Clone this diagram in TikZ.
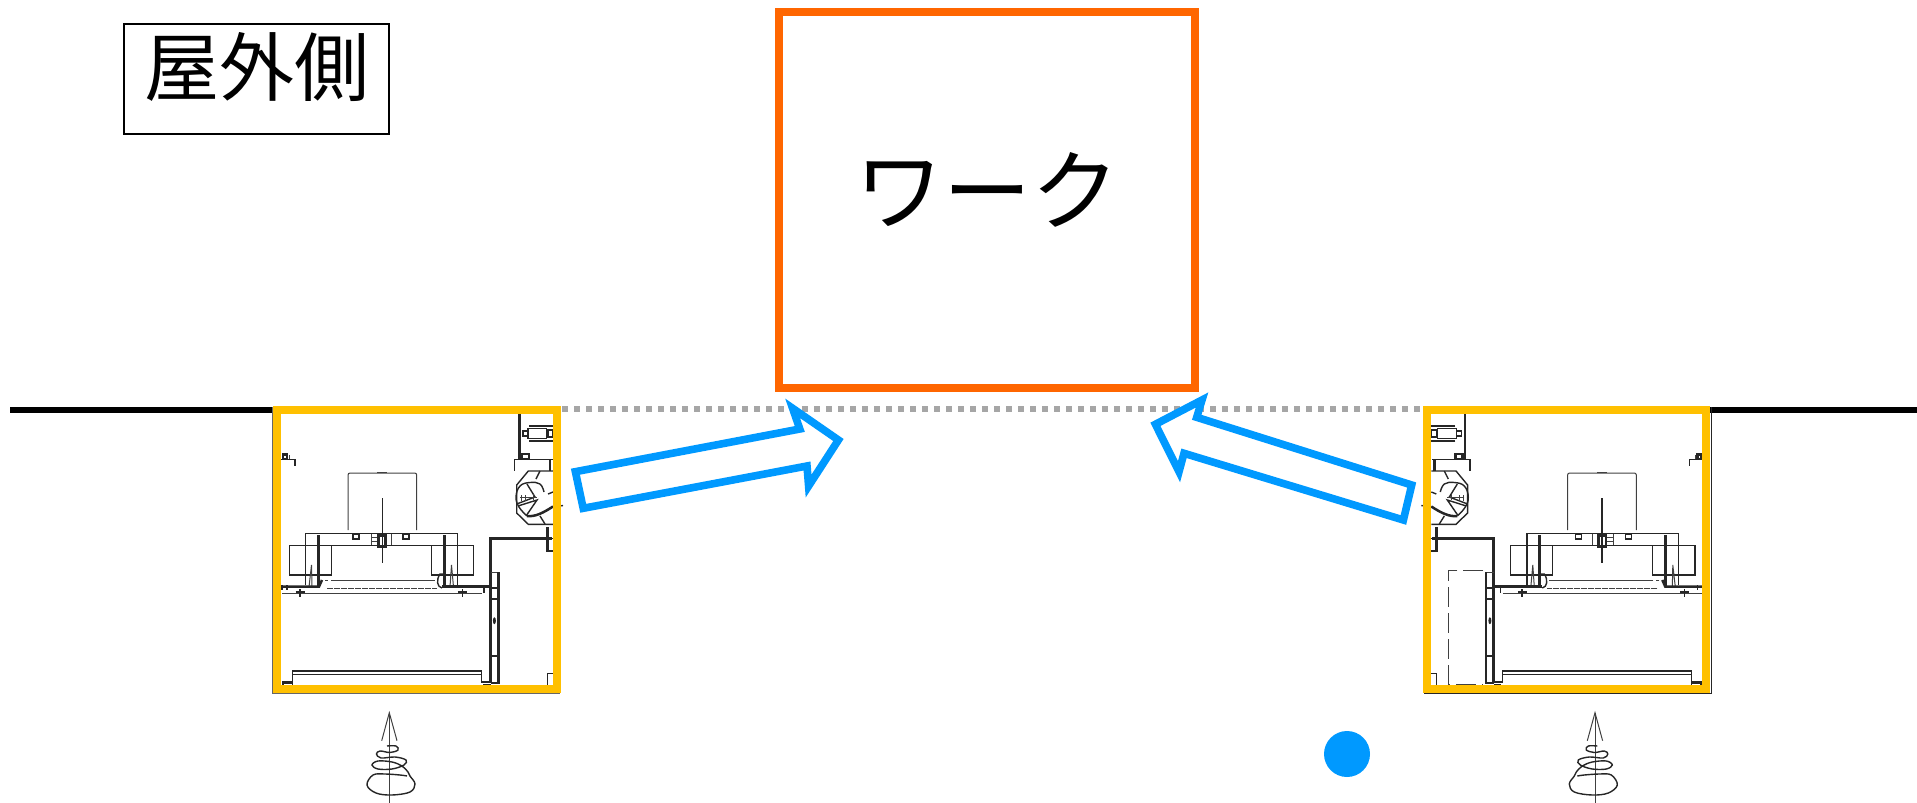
\documentclass[tikz,border=0pt]{standalone}
\usepackage{fontspec}
\newfontfamily\cjk{Noto Sans CJK JP}
\definecolor{framey}{HTML}{FFC000}
\definecolor{workor}{HTML}{FF6600}
\definecolor{flowbl}{HTML}{0099FF}
\definecolor{dotgr}{HTML}{A6A6A6}
\tikzset{
    fine/.style={line width=0.5pt, black!75},
    mid/.style={line width=0.7pt, black!85},
    heavy/.style={line width=1.25pt, black!85},
    yframe/.style={draw=framey, line width=4pt, miter limit=10},
    flowarrow/.style={draw=flowbl, line width=3.8pt, fill=white, miter limit=20},
    workbox/.style={draw=workor, line width=4pt, minimum width=207.7pt, minimum height=187.9pt, inner sep=0pt},
    sidebox/.style={draw, line width=0.6pt, minimum width=132.5pt, minimum height=55pt, inner sep=0pt},
}
\newcommand{\machine}{
    % Motor on its base
    \draw[fine, rounded corners=1] (348,530) -- (348,473) -- (416.7,473) -- (416.7,530);
    \draw[fine] (377,472) -- (387,472);
    \draw[mid] (382.3,498) -- (382.3,563);
    \draw[mid] (305.7,585) -- (305.7,533.3) -- (457.3,533.3) -- (457.3,585);
    \draw[heavy] (318.7,535) -- (318.7,587);
    \draw[heavy] (444.7,535) -- (444.7,587);
    \draw[mid] (289.3,545.3) -- (473.7,545.3);
    \draw[mid] (331.7,545.3) -- (331.7,575) -- (289.3,575) -- (289.3,545.3);
    \draw[mid] (431.7,545.3) -- (431.7,575) -- (473.7,575) -- (473.7,545.3);
    \draw[mid] (353,534) rectangle (359,539);
    \draw[mid] (403,534) rectangle (409,539);
    \draw[fine] (371,534) -- (371,545) (378,534) -- (378,545) (371,537) -- (378,537) (371,541) -- (378,541);
    \draw[heavy] (378.5,535.7) rectangle (385.7,546.7);
    \draw[fine] (391.7,534) -- (391.7,545);
    \draw[fine] (309,587) -- (311.5,565) -- (312,587);
    \draw[fine] (450,587) -- (451.5,565) -- (453.5,587);
    % Plates below the base
    \draw[heavy] (282,586.7) -- (319,586.7) -- (322,580);
    \draw[fine] (325,580.5) -- (328,580.5);
    \draw[fine] (331,580) -- (435,580);
    \draw[fine, dash pattern=on 3pt off 0.5pt] (327,588.7) -- (437,588.7);
    \draw[heavy] (442,586.7) -- (490,586.7);
    \draw[mid] (445,574) -- (440,574) .. controls (436,580) and (437,587) .. (442,588);
    \draw[fine] (282,593.3) -- (481.7,593.3);
    \draw[mid] (484,587) -- (484,593);
    \draw[mid] (300,589) -- (300,597) (295.5,592) -- (304.5,592);
    \draw[mid] (462.3,589) -- (462.3,597) (457.8,592) -- (466.8,592);
    \draw[mid] (282,585) -- (282,590) (287,585) -- (287,590);
    % Side plate
    \draw[heavy] (552,538.3) -- (490.7,538.3) -- (490.7,683);
    \draw[fine] (490.7,572.3) -- (498.3,572.3);
    \draw[heavy] (498.3,572.3) -- (498.3,683) -- (490.7,683);
    \draw[mid] (490.7,588) -- (498.3,588) (490.7,599) -- (498.3,599) (490.7,656) -- (498.3,656);
    \fill[black!85] (494.4,620.7) ellipse (1.5 and 3.5);
    % Tray at the bottom
    \draw[mid] (292.7,686) -- (292.7,671) -- (481.7,671) -- (481.7,682) -- (490.7,682);
    \draw[mid] (292.7,674.5) -- (481.7,674.5);
    \draw[heavy] (283,686) -- (283,682.5) -- (292.7,682.5);
    \draw[heavy] (483,685) -- (490.7,685);
    \draw[mid] (547.7,686) -- (547.7,673.5) -- (553,673.5);
    % Bracket on the far wall
    \draw[mid] (281,459.3) -- (295,459.3) -- (295,466);
    \draw[heavy] (283,454.5) rectangle (287,459);
    \draw[fine] (289,455) -- (289,459);
    % Roller at the top
    \draw[heavy] (519.3,414) -- (519.3,459.3);
    \draw[mid] (514.3,470.7) -- (514.3,459.3) -- (552.7,459.3);
    \draw[heavy] (550,459.3) -- (550,471);
    \draw[heavy] (522,454) rectangle (529,459);
    \draw[mid] (528,428.5) rectangle (546.7,438.5);
    \draw[heavy] (529,426) -- (553,426) (529,441) -- (553,441);
    \draw[mid] (523,431) rectangle (528,436);
    \draw[mid] (548,430) rectangle (553,437);
    % Octagon with the fan
    \draw[mid] (553,471) -- (528.3,471) -- (516.7,485) -- (516.7,513) -- (528.3,524.3) -- (553,524.3);
    \draw[mid] plot[smooth, tension=0.7] coordinates {
        (544,492) (540,484) (530,482.5) (520,486) (516,497) (519,507) (526,515)
    };
    \draw[heavy] (527,516) .. controls (535,517) and (543,513) .. (553,506.5);
    \draw[mid] (516.7,504) -- (535,497) -- (527,484);
    \draw[mid] (518,506) -- (537,500) -- (526,516);
    \draw[fine] (520,497) -- (537,497) (521,495) -- (521,501) (525,495) -- (525,501) (533,494) -- (533,500);
    \draw[mid] (540,471) -- (536,479) (540,516) -- (545,524);
    \draw[mid] (548,494) -- (553,492);
    \draw[mid] (553,507) -- (563,505.5);
    % Lower roller bracket
    \draw[heavy] (547.7,527) -- (547.7,551) -- (553,551);
    \draw[mid] (547.7,538.3) -- (553,538.3);
    % Mark below the unit
    \draw[fine] (389.3,712.7) -- (389.3,802.7);
    \draw[fine] (381.7,740.7) -- (389.3,712.7) -- (397,740.7);
    \draw[mid] plot[smooth, tension=0.6] coordinates {
        (387,746) (396,746) (398,750) (390,752.5) (380,751) (376.5,754) (381,758)
        (395,757) (406,760) (404,765) (392,769) (378,769) (372,765) (378,761)
        (392,762) (402,766) (408,772) (410,776) (415,784) (410,792) (392,795)
        (376,793) (367,785) (373,775) (385,774) (400,775) (407,776)
    };
}
\begin{document}
\begin{tikzpicture}[x=0.5pt, y=-0.5pt]
    \useasboundingbox (0,0) rectangle (1917,803);

    % Draw the floor line on both sides
    \draw[line width=3pt] (10,409.5) -- (277,409.5);
    \draw[line width=3pt] (1706,409.5) -- (1917,409.5);
    \draw[dotgr, line width=3pt, dash pattern=on 3pt off 3pt] (562,409) -- (1423,409);

    % Draw the two units
    \machine
    \begin{scope}[shift={(1984.3,0)}, xscale=-1]
        \machine
    \end{scope}
    \draw[fine, dash pattern=on 10pt off 3pt] (1483.3,570) -- (1448.7,570) -- (1448.7,684) -- (1483.3,684);

    % Outer walls and yellow frames
    \draw[line width=0.7pt, black!60] (272.7,407) -- (272.7,693.3) -- (560,693.3);
    \draw[line width=0.7pt, black!85] (1711.7,407) -- (1711.7,693.3) -- (1424,693.3);
    \draw[yframe] (277,410) rectangle (557,689);
    \draw[yframe] (1427,410) rectangle (1706,689);

    % Draw the flow arrows
    \draw[flowarrow] (575.4,471.7) -- (799.8,429) -- (792.6,408.3) -- (838.4,440)
        -- (808.6,486) -- (807,466) -- (583.2,508.3) -- cycle;
    \draw[flowarrow] (1411.7,485) -- (1196.7,417.3) -- (1202,400) -- (1155.4,424.3)
        -- (1179,471.7) -- (1184,453.3) -- (1403.4,520) -- cycle;

    % Work and side label
    \node[workbox, font=\cjk\fontsize{44}{48}\selectfont, text depth=12pt] (work) at (987,200.2) {ワーク};
    \node[sidebox, font=\cjk\fontsize{37.5}{40}\selectfont, text depth=15pt] (side) at (256.5,79) {屋外側};
    \node[circle, fill=flowbl, minimum size=23pt, inner sep=0pt] (spot) at (1347,754) {};
\end{tikzpicture}
\end{document}
